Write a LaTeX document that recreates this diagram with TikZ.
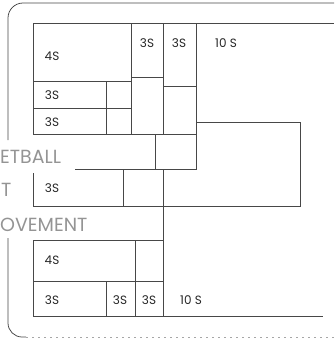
\documentclass[tikz,border=0pt]{standalone}
\usepackage{fontspec}
\newfontfamily\plansans{Poppins}
\usetikzlibrary{positioning}

\begin{document}
\begin{tikzpicture}[x=1pt,y=-1pt,
  wall/.style={draw=black!72,line width=0.75pt},
  faint/.style={draw=black!35,line width=0.6pt,dash pattern=on 2pt off 4pt},
  roomtag/.style={font=\plansans\fontsize{12}{12}\selectfont,text=black!85,inner sep=0pt},
  bigword/.style={font=\plansans\fontsize{19}{19}\selectfont,text=black!42,inner sep=0pt,anchor=base west}]

\useasboundingbox (0,0) rectangle (334,339);

% -------- Outer frame (cut off at the right) --------
\draw[wall,rounded corners=15pt] (334,3) -- (8,3) -- (8,140);
\draw[wall,rounded corners=14pt] (8,238) -- (8,337) -- (26,337);
\draw[faint] (26,337) -- (334,337);

% -------- Upper block --------
\draw[wall] (33,23) -- (334,23);
\draw[wall] (33,23) rectangle (131,81);
\draw[wall] (131,23) rectangle (163,77);
\draw[wall] (163,23) rectangle (196,86);
\draw[wall] (33,81) rectangle (106,108);
\draw[wall] (106,81) rectangle (131,108);
\draw[wall] (33,108) rectangle (106,134);
\draw[wall] (106,108) rectangle (131,134);
\draw[wall] (131,77) rectangle (163,134);
\draw[wall] (163,86) rectangle (196,134);
\draw[wall] (196,122) -- (300,122) -- (300,206) -- (163,206) -- (163,169) -- (196,169) -- cycle;

% -------- Middle band --------
\draw[wall] (155,134) -- (155,169);
\draw[wall] (196,134) -- (196,169);
\draw[wall] (75,169) -- (196,169);
\draw[wall] (33,173) -- (33,206) -- (163,206);
\draw[wall] (123,169) -- (123,206);
\draw[wall] (163,206) -- (163,316);

% -------- Lower block --------
\draw[wall] (33,240) rectangle (135,281);
\draw[wall] (135,240) -- (163,240);
\draw[wall] (33,281) rectangle (106,316);
\draw[wall] (106,281) rectangle (135,316);
\draw[wall] (135,281) rectangle (163,316);
\draw[wall] (163,316) -- (323,316);

% -------- Room sizes --------
\node[roomtag] (topFour) at (52,56) {4S};
\node[roomtag] (topThreeA) at (147,43) {3S};
\node[roomtag] (topThreeB) at (179,43) {3S};
\node[roomtag] (topTen) at (226,43) {10 S};
\node[roomtag] (rowThreeA) at (52,95) {3S};
\node[roomtag] (rowThreeB) at (52,122) {3S};
\node[roomtag] (midThree) at (52,188) {3S};
\node[roomtag] (lowFour) at (52,260) {4S};
\node[roomtag] (lowThreeA) at (52,300) {3S};
\node[roomtag] (lowThreeB) at (120,300) {3S};
\node[roomtag] (lowThreeC) at (149,300) {3S};
\node[roomtag] (lowTen) at (191,300) {10 S};

% -------- Words along the left edge --------
\node[bigword] (wordBall) at (0,163) {ETBALL};
\node[bigword] (wordCourt) at (1,196) {T};
\node[bigword] (wordMove) at (0,231) {OVEMENT};

\end{tikzpicture}
\end{document}
